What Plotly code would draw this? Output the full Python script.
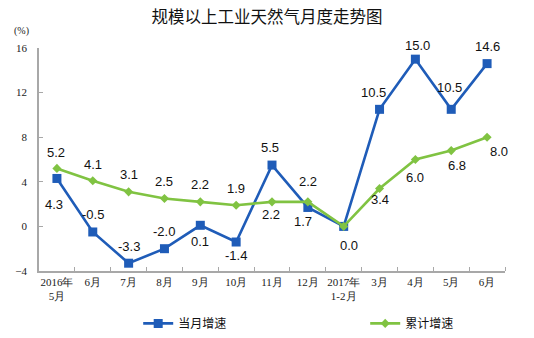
import plotly.graph_objects as go

categories = ["2016年<br>5月", "6月", "7月", "8月", "9月", "10月", "11月", "12月",
              "2017年<br>1-2月", "3月", "4月", "5月", "6月"]
monthly = [4.3, -0.5, -3.3, -2.0, 0.1, -1.4, 5.5, 1.7, 0.0, 10.5, 15.0, 10.5, 14.6]
cumulative = [5.2, 4.1, 3.1, 2.5, 2.2, 1.9, 2.2, 2.2, 0.0, 3.4, 6.0, 6.8, 8.0]
y_ticks = [-4, 0, 4, 8, 12, 16]

# label offsets (pixels): (xshift, yshift)
monthly_off = [(-3, -26), (0, 17), (0, 17), (0, 17), (0, -16), (0, -13), (-2, 18),
               (-5, -14), (5, -19), (-6, 17), (2, 14), (-2, 22), (0, 17)]
cumulative_off = [(-1, 16), (0, 16), (0, 17), (0, 17), (0, 17), (0, 17), (-1, -13),
                  (0, 20), None, (0, -11), (0, -18), (6, -15), (12, -14)]

x_idx = list(range(len(categories)))

blue = "#1F5CB8"
green = "#80C342"

fig = go.Figure()
fig.add_trace(go.Scatter(x=x_idx, y=monthly, name="当月增速", mode="lines+markers",
                         line=dict(color=blue, width=2.6),
                         marker=dict(symbol="square", size=9, color=blue)))
fig.add_trace(go.Scatter(x=x_idx, y=cumulative, name="累计增速", mode="lines+markers",
                         line=dict(color=green, width=2.6),
                         marker=dict(symbol="diamond", size=7, color=green)))

ann = []
for i, (v, off) in enumerate(zip(monthly, monthly_off)):
    ann.append(dict(x=i, y=v, text=f"{v:.1f}", showarrow=False, xshift=off[0], yshift=off[1],
                    font=dict(family="Liberation Sans, Arial", size=13, color="#111")))
for i, (v, off) in enumerate(zip(cumulative, cumulative_off)):
    if off is None:
        continue
    ann.append(dict(x=i, y=v, text=f"{v:.1f}", showarrow=False, xshift=off[0], yshift=off[1],
                    font=dict(family="Liberation Sans, Arial", size=13, color="#111")))
ann.append(dict(xref="paper", yref="paper", x=-0.037, y=1.076, text="(%)", showarrow=False,
                xanchor="center", yanchor="middle",
                font=dict(family="Liberation Serif, DejaVu Serif", size=10, color="#222")))

fig.update_layout(
    width=534, height=338,
    margin=dict(l=39, r=29, t=48, b=67, autoexpand=False),
    paper_bgcolor="white", plot_bgcolor="white",
    title=dict(text="规模以上工业天然气月度走势图", x=0.5, xanchor="center", y=1 - 17/338,
               yanchor="middle",
               font=dict(family="Noto Sans CJK SC", size=16.5, color="#111")),
    annotations=ann,
    showlegend=True,
    legend=dict(orientation="h", x=0.70, xanchor="center", y=-0.235, yanchor="middle",
                font=dict(family="Noto Sans CJK SC", size=12, color="#111"),
                entrywidth=182, itemwidth=30),
)
fig.update_xaxes(range=[-0.5, 12.5], tickmode="array", tickvals=x_idx, ticktext=categories,
                 showgrid=False, zeroline=False, showline=True, linecolor="#A8A8A8", linewidth=1.5,
                 ticks="", automargin=False,
                 tickfont=dict(family="Liberation Serif, DejaVu Serif", size=11, color="#222"))
# boundary ticks drawn via minor ticks
fig.update_xaxes(minor=dict(tickmode="array", tickvals=[i + 0.5 for i in x_idx], ticks="inside",
                            ticklen=4, tickcolor="#A8A8A8", showgrid=False))
fig.update_yaxes(range=[-4, 16], tickmode="array", tickvals=y_ticks, showgrid=False, zeroline=False,
                 showline=True, linecolor="#A8A8A8", linewidth=1.5, ticks="inside", ticklen=4,
                 tickcolor="#A8A8A8", automargin=False, ticklabelstandoff=8,
                 tickfont=dict(family="Liberation Serif, DejaVu Serif", size=11, color="#222"))

fig.write_html("out.html")
